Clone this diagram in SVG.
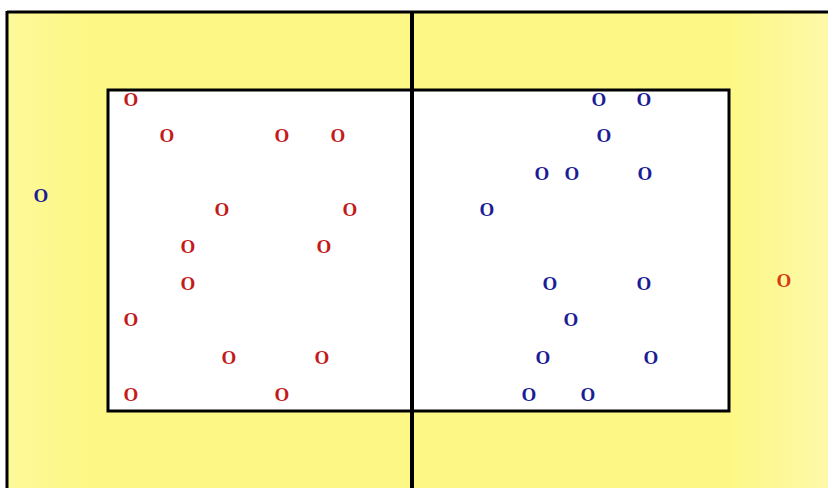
<svg xmlns="http://www.w3.org/2000/svg" width="828" height="488" viewBox="0 0 828 488">
<style>
.r{fill:#c41a1a}
.b{fill:#1c1c96}
.o{font-family:"Liberation Serif",serif;font-weight:bold;font-size:19px;text-anchor:middle}
.ln{stroke:#000;fill:none}
</style>
<defs>
<linearGradient id="yg" x1="0" y1="0" x2="1" y2="0">
<stop offset="0" stop-color="#fdf99a"/>
<stop offset="0.1" stop-color="#fdf886"/>
<stop offset="0.88" stop-color="#fdf886"/>
<stop offset="1" stop-color="#fdf9a8"/>
</linearGradient>
</defs>
<rect x="0" y="0" width="828" height="488" fill="#fff"/>
<rect x="7" y="12" width="821" height="476" fill="url(#yg)"/>
<rect x="108" y="90" width="621" height="321" fill="#fff"/>
<g id="court">
<line class="ln" x1="7" y1="12" x2="828" y2="12" stroke-width="3"/>
<line class="ln" x1="7" y1="11" x2="7" y2="488" stroke-width="3"/>
<rect class="ln" x="108" y="90" width="621" height="321" stroke-width="3"/>
<line class="ln" x1="412" y1="12" x2="412" y2="488" stroke-width="4"/>
</g>
<g id="red-team" class="o r">
<text x="131" y="106">O</text>
<text x="167" y="142">O</text>
<text x="282" y="142">O</text>
<text x="338" y="142">O</text>
<text x="222" y="216">O</text>
<text x="350" y="216">O</text>
<text x="188" y="253">O</text>
<text x="324" y="253">O</text>
<text x="188" y="290">O</text>
<text x="131" y="326">O</text>
<text x="229" y="364">O</text>
<text x="322" y="364">O</text>
<text x="131" y="401">O</text>
<text x="282" y="401">O</text>
</g>
<g id="blue-outside" class="o b"><text x="41" y="202">O</text></g>
<g id="blue-team" class="o b">
<text x="599" y="106">O</text>
<text x="644" y="106">O</text>
<text x="604" y="142">O</text>
<text x="542" y="180">O</text>
<text x="572" y="180">O</text>
<text x="645" y="180">O</text>
<text x="487" y="216">O</text>
<text x="550" y="290">O</text>
<text x="644" y="290">O</text>
<text x="571" y="326">O</text>
<text x="543" y="364">O</text>
<text x="651" y="364">O</text>
<text x="529" y="401">O</text>
<text x="588" y="401">O</text>
</g>
<g id="red-outside" class="o"><text x="784" y="287" fill="#d83a14">O</text></g>
</svg>
